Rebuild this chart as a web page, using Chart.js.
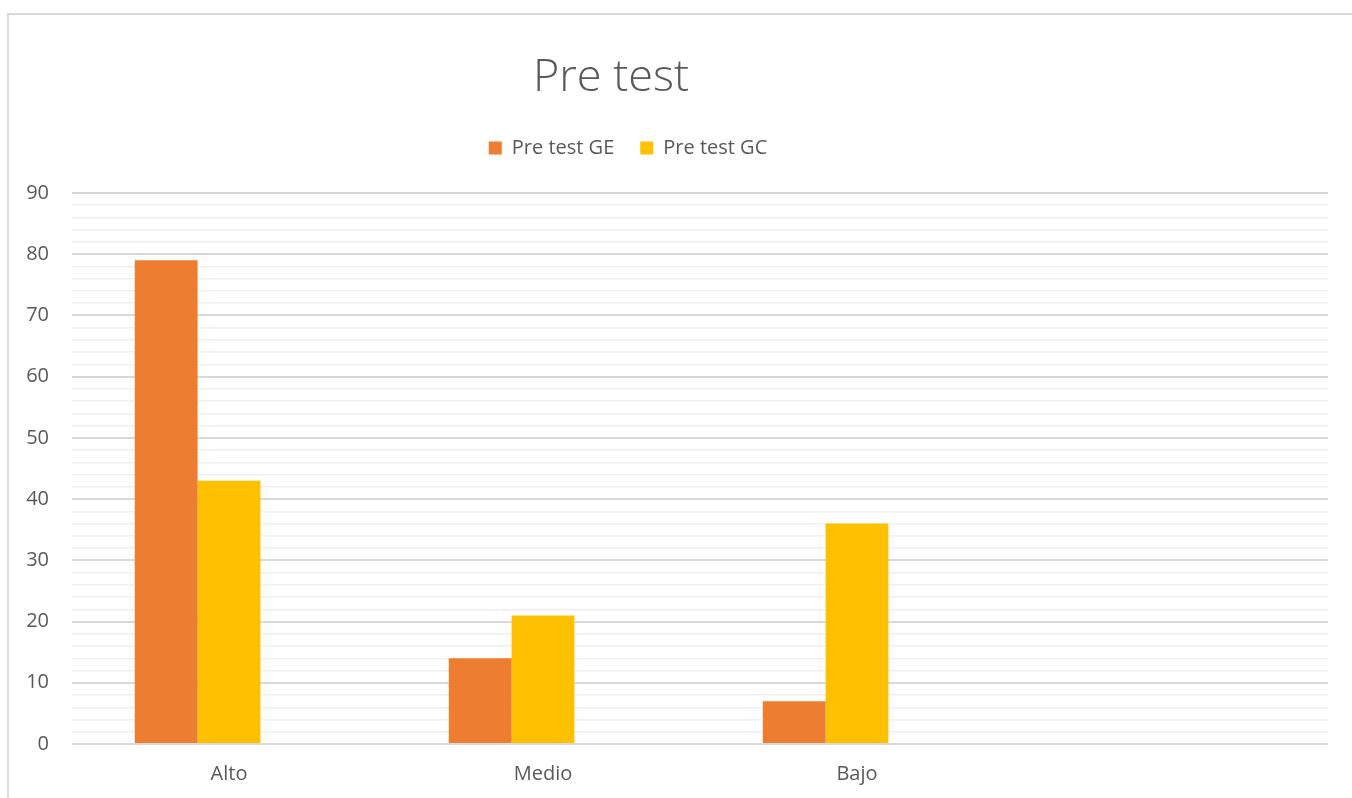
<!DOCTYPE html>
<html>
<head>
<meta charset="utf-8">
<script src="https://cdn.jsdelivr.net/npm/chart.js@4/dist/chart.umd.min.js"></script>
<style>
  html, body { margin: 0; padding: 0; background: #fff; overflow: hidden; }
  #frame { position: absolute; left: 7px; top: 13px; width: 1500px; height: 900px; border: 2px solid #d9d9d9; }
  #wrap { position: absolute; left: 0; top: 0; width: 1352px; height: 798px; }
</style>
</head>
<body>
<div id="frame"></div>
<div id="wrap"><canvas id="chart"></canvas></div>
<script>
// datos
var categorias = ['Alto', 'Medio', 'Bajo', ''];
var preTestGE = [79, 14, 7, null];
var preTestGC = [43, 21, 36, null];
var serieVacia = [null, null, null, null];
var yMax = 90;

var TITLE_CENTER = 611;
var LEGEND_CENTER = 628;

Chart.defaults.font.family = "'Open Sans', 'DejaVu Sans', sans-serif";
Chart.defaults.color = '#595959';

// mueve titulo y leyenda como en el original, y deja hueco bajo la leyenda
var ajustes = {
  id: 'ajustes',
  beforeLayout: function(chart) {
    var lg = chart.legend;
    if (lg && !lg._patched) {
      var fit = lg.fit;
      lg.fit = function() { fit.call(this); this.height += 25; };
      lg._patched = true;
    }
  },
  afterLayout: function(chart) {
    var t = chart.titleBlock;
    var dt = TITLE_CENTER - (t.left + t.right) / 2;
    t.left += dt; t.right += dt;
    var lg = chart.legend;
    var dl = LEGEND_CENTER - (lg.left + lg.right) / 2;
    lg.left += dl; lg.right += dl;
  }
};

var ctx = document.getElementById('chart').getContext('2d');
new Chart(ctx, {
  type: 'bar',
  data: {
    labels: categorias,
    datasets: [
      { label: 'Pre test GE', data: preTestGE, backgroundColor: '#ED7D31' },
      { label: 'Pre test GC', data: preTestGC, backgroundColor: '#FFC000' },
      { label: '', data: serieVacia, backgroundColor: '#A5A5A5' }
    ]
  },
  options: {
    responsive: true,
    maintainAspectRatio: false,
    animation: false,
    layout: { padding: { top: 0, left: 0, right: 24, bottom: 0 } },
    datasets: { bar: { barPercentage: 1, categoryPercentage: 0.6 } },
    plugins: {
      title: {
        display: true,
        text: 'Pre test',
        color: '#595959',
        font: { size: 45, weight: '300', lineHeight: 1 },
        padding: { top: 55.5, bottom: 11.5 }
      },
      legend: {
        position: 'top',
        labels: {
          boxWidth: 13,
          boxHeight: 13,
          padding: 26,
          color: '#595959',
          font: { size: 20 },
          filter: function(item) { return item.text !== ''; }
        }
      },
      tooltip: { enabled: false }
    },
    scales: {
      x: {
        afterFit: function(scale) { scale.height = 54; },
        grid: { display: false, drawTicks: false },
        border: { display: false },
        ticks: { font: { size: 20, lineHeight: 1.2 }, padding: 18, color: '#595959' }
      },
      y: {
        min: 0,
        max: yMax,
        afterFit: function(scale) { scale.width = 72; },
        border: { display: false },
        grid: {
          drawTicks: false,
          color: function(c) { return c.tick && c.tick.value % 10 === 0 ? '#d9d9d9' : '#f0f0f0'; },
          lineWidth: function(c) { return c.tick && c.tick.value % 10 === 0 ? 2 : 1.5; }
        },
        ticks: {
          stepSize: 2,
          autoSkip: false,
          padding: 23,
          font: { size: 20 },
          color: '#595959',
          callback: function(v) { return v % 10 === 0 ? v : ''; }
        }
      }
    }
  },
  plugins: [ajustes]
});
</script>
</body>
</html>
